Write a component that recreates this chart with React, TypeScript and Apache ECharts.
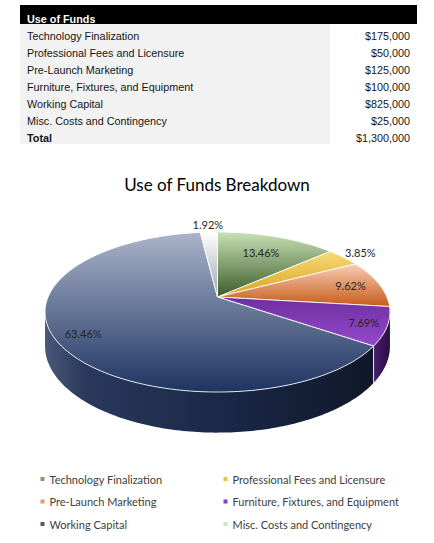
import React, { useEffect, useRef } from 'react';
import * as echarts from 'echarts';

const categories = [
  'Technology Finalization',
  'Professional Fees and Licensure',
  'Pre-Launch Marketing',
  'Furniture, Fixtures, and Equipment',
  'Working Capital',
  'Misc. Costs and Contingency',
];
const amounts = [175000, 50000, 125000, 100000, 825000, 25000];
const tableTitle = 'Use of Funds';
const totalLabel = 'Total';
const chartTitle = 'Use of Funds Breakdown';

// top face gradient (top of slice -> bottom of slice)
const topColors = [
  ['#c9e1b5', '#3a5c2a'],
  ['#f7da7a', '#d8a420'],
  ['#f8cfb5', '#c65a1a'],
  ['#6f2f9f', '#9549cd'],
  ['#aab4c9', '#1e3461'],
  ['#ffffff', '#9ea3b0'],
];
// side wall gradient (left -> right)
const wallColors = [
  ['#2f4a22', '#1c2e14'],
  ['#a07a10', '#6e540a'],
  ['#8a3c10', '#5a2608'],
  ['#4a1f6e', '#2a0e42'],
  ['#4a5878', '#10172a'],
  ['#9a9ea8', '#6a6e78'],
];
const swatchColors = ['#7f9c6c', '#f0c040', '#ec9670', '#8a3cc0', '#4b5a7c', '#d8d8dc'];
// where each percentage sits, as a fraction of the radius
const labelRadius = [0.7, 1.15, 0.82, 0.87, 0.85, 1.15];

// tilted disc with a bit of perspective
const CX = 217.5;
const CY = 297;
const RX = 169.4;
const RY = 77.2;
const PERSP = 0.1875;
const DEPTH = 33;
const RAD = Math.PI / 180;

const total = amounts.reduce((a, b) => a + b, 0);
const starts: number[] = [];
let acc = 0;
amounts.forEach((v) => {
  starts.push((acc / total) * 360);
  acc += v;
});

const SIL_R = Math.acos(-PERSP) / RAD;
const SIL_L = 360 - SIL_R;

function project(deg: number, f = 1, drop = 0) {
  const u = Math.sin(deg * RAD) * f;
  const v = -Math.cos(deg * RAD) * f;
  const s = 1 / (1 - PERSP * v);
  return [CX + RX * u * s, CY + RY * v * s + drop * s];
}

function arc(a0: number, a1: number, drop = 0) {
  const pts: number[][] = [];
  const n = Math.max(2, Math.ceil(a1 - a0));
  for (let i = 0; i <= n; i++) pts.push(project(a0 + ((a1 - a0) * i) / n, 1, drop));
  return pts;
}

const grad = (c: string[], horizontal: boolean) => ({
  type: 'linear',
  x: 0,
  y: 0,
  x2: horizontal ? 1 : 0,
  y2: horizontal ? 0 : 1,
  colorStops: horizontal && c[0] === '#4a5878'
    ? [
        { offset: 0, color: '#4a5878' },
        { offset: 0.12, color: '#2a395c' },
        { offset: 0.5, color: '#1b2949' },
        { offset: 1, color: '#10172a' },
      ]
    : [
        { offset: 0, color: c[0] },
        { offset: 1, color: c[1] },
      ],
});

function buildSlice(i: number) {
  const a0 = starts[i];
  const a1 = a0 + (amounts[i] / total) * 360;
  const children: any[] = [];
  const w0 = Math.max(a0, SIL_R);
  const w1 = Math.min(a1, SIL_L);
  if (w1 > w0) {
    const top = arc(w0, w1, 0);
    const bottom = arc(w0, w1, DEPTH).reverse();
    children.push({
      type: 'polygon',
      shape: { points: top.concat(bottom) },
      style: { fill: grad(wallColors[i], true) },
    });
    [a0, a1].forEach((a) => {
      if (a > SIL_R && a < SIL_L) {
        const p = project(a);
        const q = project(a, 1, DEPTH);
        children.push({
          type: 'line',
          shape: { x1: p[0], y1: p[1], x2: q[0], y2: q[1] },
          style: { stroke: 'rgba(255,255,255,0.8)', lineWidth: 1 },
        });
      }
    });
  }
  children.push({
    type: 'polygon',
    shape: { points: [[CX, CY]].concat(arc(a0, a1, 0)) },
    style: {
      fill: grad(topColors[i], false),
      stroke: 'rgba(255,255,255,0.85)',
      lineWidth: 1,
      lineJoin: 'round',
    },
  });
  const lp = project((a0 + a1) / 2, labelRadius[i]);
  children.push({
    type: 'text',
    x: lp[0],
    y: lp[1],
    style: {
      text: ((amounts[i] / total) * 100).toFixed(2) + '%',
      fill: '#262626',
      fontSize: 11,
      fontFamily: 'Lato',
      align: 'center',
      verticalAlign: 'middle',
    },
  });
  return { type: 'group', children };
}

const money = (v: number) => '$' + v.toLocaleString('en-US');

const App: React.FC = () => {
  const chartRef = useRef<HTMLDivElement>(null);

  useEffect(() => {
    if (!chartRef.current) return;
    const chart = echarts.init(chartRef.current, undefined, { renderer: 'svg' });

    const legendText = { fontFamily: 'Lato', fontSize: 11, color: '#404040', lineHeight: 12 };
    const legendBase = {
      orient: 'vertical',
      top: 473,
      padding: 0,
      icon: 'rect',
      itemWidth: 4,
      itemHeight: 4,
      itemGap: 10.5,
      selectedMode: false,
      textStyle: legendText,
    };

    chart.setOption({
      animation: false,
      title: {
        text: chartTitle,
        left: 'center',
        top: 176,
        padding: 0,
        textStyle: { fontFamily: 'Lato', fontSize: 17, fontWeight: 'normal', color: '#000' },
      },
      legend: [
        { ...legendBase, left: 40.5, data: [categories[0], categories[2], categories[4]] },
        { ...legendBase, left: 223.5, data: [categories[1], categories[3], categories[5]] },
      ],
      series: categories.map((name, i) => ({
        type: 'custom',
        name,
        coordinateSystem: 'none',
        silent: true,
        data: [0],
        itemStyle: { color: swatchColors[i] },
        renderItem: () => buildSlice(i),
      })),
    });

    return () => {
      chart.dispose();
    };
  }, []);

  const rowFont = '10.8px "Liberation Sans", Arial, sans-serif';

  return (
    <div style={{ position: 'fixed', left: 0, top: 0, width: 434, height: 543, background: '#fff', overflow: 'hidden' }}>
      <div ref={chartRef} style={{ position: 'absolute', left: 0, top: 0, width: 434, height: 543 }} />
      <div style={{ position: 'absolute', left: 20, top: 5, width: 397, height: 19, background: '#000' }} />
      <div
        style={{
          position: 'absolute',
          left: 27,
          top: 12.5,
          height: 12,
          overflow: 'hidden',
          lineHeight: '17px',
          font: 'bold ' + rowFont,
          color: '#fff',
        }}
      >
        {tableTitle}
      </div>
      <div style={{ position: 'absolute', left: 20, top: 24, width: 310, height: 120, background: '#f2f2f2' }} />
      {categories.concat([totalLabel]).map((name, i) => (
        <div
          key={name}
          style={{
            position: 'absolute',
            left: 27,
            top: 29.5 + 17 * i,
            width: 383,
            height: 13.5,
            overflow: 'hidden',
            lineHeight: '17px',
            font: rowFont,
            color: '#151515',
            display: 'flex',
            justifyContent: 'space-between',
          }}
        >
          <span style={{ fontWeight: i === categories.length ? 'bold' : 'normal' }}>{name}</span>
          <span>{money(i === categories.length ? total : amounts[i])}</span>
        </div>
      ))}
    </div>
  );
};

export default App;
